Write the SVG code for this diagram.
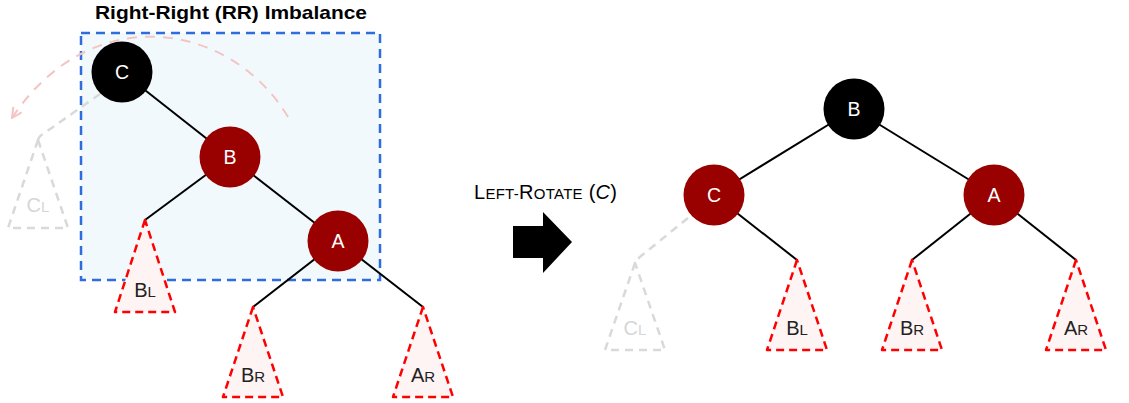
<svg xmlns="http://www.w3.org/2000/svg" width="1129" height="403" viewBox="0 0 1129 403">
<style>
text{font-family:"Liberation Sans",Arial,sans-serif}
.edge{stroke:#000;stroke-width:2;fill:none}
.ghost{stroke:#d9d9d9;stroke-width:2.5;stroke-dasharray:8,6;fill:none}
.tri{fill:#fff4f4;stroke:#ff0000;stroke-width:2.5;stroke-dasharray:8,5;stroke-linejoin:round}
.gtri{fill:none;stroke:#d9d9d9;stroke-width:2.5;stroke-dasharray:8,6;stroke-linejoin:round}
.red{fill:#990000}
.blk{fill:#000}
.nl{fill:#fff;font-size:19.5px;text-anchor:middle}
.lab{fill:#222;font-size:20px;text-anchor:middle}
.glab{fill:#d6d6d6;font-size:20px;text-anchor:middle}
.sc{font-size:15px}
</style>
<defs>
<marker id="open" viewBox="0 0 12 12" refX="11" refY="6" markerWidth="12" markerHeight="12" markerUnits="userSpaceOnUse" orient="auto">
<path d="M1,1 L11,6 L1,11" fill="none" stroke="#f4c4c4" stroke-width="2"/>
</marker>
</defs>

<g id="title">
<text x="95" y="19" font-size="19" font-weight="bold" fill="#000" textLength="272" lengthAdjust="spacingAndGlyphs">Right-Right (RR) Imbalance</text>
</g>

<g id="imbalance-box">
<rect x="81" y="33" width="299" height="247" fill="#f2f9fd" stroke="#2e6ddb" stroke-width="2.5" stroke-dasharray="9,6"/>
</g>

<g id="connectors">
<line class="edge" x1="122" y1="72" x2="230" y2="157"/>
<line class="edge" x1="230" y1="157" x2="145" y2="220"/>
<line class="edge" x1="230" y1="157" x2="338" y2="241"/>
<line class="edge" x1="338" y1="241" x2="253" y2="307"/>
<line class="edge" x1="338" y1="241" x2="423" y2="307"/>
<path class="ghost" d="M100,94 L43,134 Q38,137 38,141"/>
<path d="M288,117 C230,20 90,0 12,118" fill="none" stroke="#f4c4c4" stroke-width="2" stroke-dasharray="10,8" marker-end="url(#open)"/>
<line class="edge" x1="854" y1="109" x2="714" y2="195"/>
<line class="edge" x1="854" y1="109" x2="994" y2="195"/>
<line class="edge" x1="714" y1="195" x2="797" y2="260"/>
<line class="edge" x1="994" y1="195" x2="912" y2="260"/>
<line class="edge" x1="994" y1="195" x2="1076" y2="260"/>
<path class="ghost" d="M688,218 L641,256 Q636,260 636,264"/>
</g>

<g id="node-C-left">
<circle class="blk" cx="122" cy="72" r="30.5"/>
<text class="nl" x="122" y="79">C</text>
</g>
<g id="node-B-left">
<circle class="red" cx="230" cy="157" r="30.5"/>
<text class="nl" x="230" y="164">B</text>
</g>
<g id="node-A-left">
<circle class="red" cx="338" cy="241" r="30.5"/>
<text class="nl" x="338" y="248">A</text>
</g>

<g id="subtree-CL-left">
<polygon class="gtri" points="38,140 8,228 68,228"/>
<text class="glab" x="38" y="212">C<tspan class="sc">L</tspan></text>
</g>
<g id="subtree-BL-left">
<polygon class="tri" points="145,220 115,312 175,312"/>
<text class="lab" x="145" y="297">B<tspan class="sc">L</tspan></text>
</g>
<g id="subtree-BR-left">
<polygon class="tri" points="253,307 223,397 283,397"/>
<text class="lab" x="253" y="382">B<tspan class="sc">R</tspan></text>
</g>
<g id="subtree-AR-left">
<polygon class="tri" points="423,307 393,397 453,397"/>
<text class="lab" x="423" y="382">A<tspan class="sc">R</tspan></text>
</g>

<g id="rotate-label">
<text x="474" y="199" font-size="20" fill="#000" textLength="143" lengthAdjust="spacing">L<tspan font-size="15">EFT-</tspan>R<tspan font-size="15">OTATE</tspan> (<tspan font-style="italic">C</tspan>)</text>
</g>
<g id="rotate-arrow">
<polygon points="513,226 543,226 543,212 572,242 543,273 543,258 513,258" fill="#000"/>
</g>

<g id="node-B-right">
<circle class="blk" cx="854" cy="109" r="30.5"/>
<text class="nl" x="854" y="116">B</text>
</g>
<g id="node-C-right">
<circle class="red" cx="714" cy="195" r="30.5"/>
<text class="nl" x="714" y="202">C</text>
</g>
<g id="node-A-right">
<circle class="red" cx="994" cy="195" r="30.5"/>
<text class="nl" x="994" y="202">A</text>
</g>

<g id="subtree-CL-right">
<polygon class="gtri" points="635,263 605,350 665,350"/>
<text class="glab" x="635" y="335">C<tspan class="sc">L</tspan></text>
</g>
<g id="subtree-BL-right">
<polygon class="tri" points="797,260 767,350 827,350"/>
<text class="lab" x="797" y="335">B<tspan class="sc">L</tspan></text>
</g>
<g id="subtree-BR-right">
<polygon class="tri" points="912,260 882,350 942,350"/>
<text class="lab" x="912" y="335">B<tspan class="sc">R</tspan></text>
</g>
<g id="subtree-AR-right">
<polygon class="tri" points="1076,260 1046,350 1106,350"/>
<text class="lab" x="1076" y="335">A<tspan class="sc">R</tspan></text>
</g>
</svg>
